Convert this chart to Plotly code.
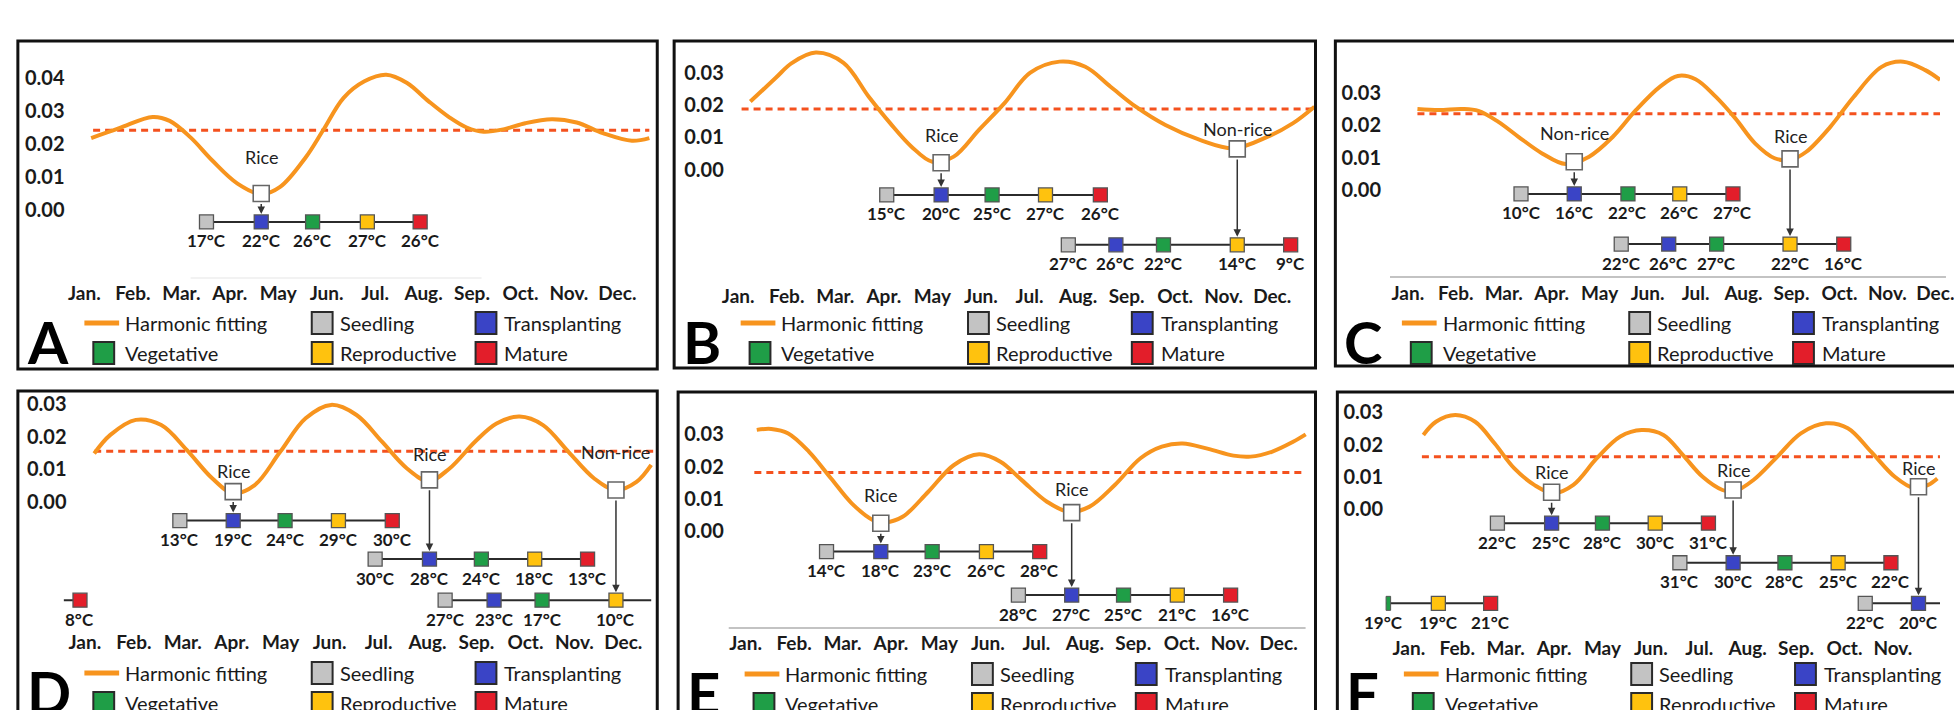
import plotly.graph_objects as go

W, H = 1954, 710
FONT = "Lato"

MONTHS = ["Jan.", "Feb.", "Mar.", "Apr.", "May", "Jun.", "Jul.", "Aug.", "Sep.", "Oct.", "Nov.", "Dec."]
STAGES = ["Seedling", "Transplanting", "Vegetative", "Reproductive", "Mature"]
STAGE_COLORS = ["#C3C3C3", "#3A44C6", "#1F9E47", "#FFC20E", "#E31E2A"]
CURVE_COLOR = "#F7941E"
THRESH_COLOR = "#F4511E"

# ---------------- data: harmonic fitting curves (month position, value) ----------------
a_month = [1.14, 1.72, 2.41, 2.76, 3.19, 3.64, 4.16, 4.65, 5.04, 5.57, 5.92, 6.35, 6.78, 7.23,
           7.66, 8.10, 8.54, 8.89, 9.24, 9.67, 10.10, 10.65, 11.16, 11.70, 12.30, 12.66]
a_value = [0.0218, 0.0248, 0.0282, 0.0270, 0.0220, 0.0150, 0.0080, 0.0048, 0.0070, 0.0160, 0.0240,
           0.0340, 0.0390, 0.0410, 0.0385, 0.0330, 0.0280, 0.0250, 0.0237, 0.0245, 0.0263, 0.0275,
           0.0265, 0.0233, 0.0210, 0.0218]
b_month = [1.25, 1.77, 2.11, 2.60, 3.17, 3.69, 4.13, 4.57, 5.00, 5.44, 5.96, 6.49, 7.01, 7.62,
           8.15, 8.67, 9.19, 9.80, 10.51, 11.21, 11.91, 12.43, 12.87]
b_value = [0.0211, 0.0284, 0.0331, 0.0363, 0.0331, 0.0226, 0.0144, 0.0071, 0.0024, 0.0040, 0.0123,
           0.0207, 0.0300, 0.0335, 0.0319, 0.0257, 0.0195, 0.0138, 0.0092, 0.0066, 0.0102, 0.0144,
           0.0195]
c_month = [1.20, 1.65, 2.14, 2.47, 2.88, 3.30, 3.80, 4.29, 4.78, 5.28, 5.76, 6.26, 6.63, 7.00,
           7.42, 7.83, 8.24, 8.65, 8.98, 9.31, 9.81, 10.30, 10.88, 11.33, 11.79, 12.10]
c_value = [0.0250, 0.0247, 0.0250, 0.0244, 0.0211, 0.0165, 0.0113, 0.0080, 0.0103, 0.0165, 0.0247,
           0.0319, 0.0352, 0.0342, 0.0288, 0.0221, 0.0144, 0.0098, 0.0093, 0.0118, 0.0195, 0.0288,
           0.0380, 0.0396, 0.0370, 0.0340]
d_month = [1.19, 1.52, 2.04, 2.56, 3.08, 3.60, 4.03, 4.47, 4.99, 5.51, 6.03, 6.55, 7.07, 7.58,
           8.02, 8.45, 8.97, 9.41, 9.88, 10.36, 10.88, 11.40, 11.84, 12.27, 12.57]
d_value = [0.0148, 0.0205, 0.0251, 0.0235, 0.0159, 0.0072, 0.0026, 0.0051, 0.0153, 0.0256, 0.0297,
           0.0266, 0.0184, 0.0102, 0.0063, 0.0102, 0.0184, 0.0240, 0.0261, 0.0235, 0.0153, 0.0072,
           0.0036, 0.0061, 0.0113]
e_month = [1.23, 1.53, 1.88, 2.31, 2.76, 3.19, 3.63, 3.89, 4.24, 4.77, 5.30, 5.82, 6.26, 6.70,
           7.22, 7.66, 8.09, 8.62, 9.15, 9.59, 10.02, 10.55, 11.07, 11.42, 11.86, 12.30, 12.56]
e_value = [0.0314, 0.0317, 0.0303, 0.0246, 0.0164, 0.0086, 0.0034, 0.0027, 0.0044, 0.0122, 0.0205,
           0.0238, 0.0215, 0.0158, 0.0091, 0.0060, 0.0075, 0.0143, 0.0226, 0.0262, 0.0272, 0.0255,
           0.0234, 0.0231, 0.0246, 0.0277, 0.0300]
f_month = [1.30, 1.56, 1.96, 2.37, 2.77, 3.18, 3.59, 3.99, 4.40, 4.88, 5.37, 5.81, 6.26, 6.66,
           7.07, 7.48, 7.72, 8.12, 8.61, 9.10, 9.62, 10.07, 10.55, 11.04, 11.45, 11.73, 11.92]
f_value = [0.0230, 0.0271, 0.0292, 0.0271, 0.0204, 0.0126, 0.0075, 0.0049, 0.0075, 0.0157, 0.0225,
           0.0245, 0.0230, 0.0168, 0.0100, 0.0059, 0.0054, 0.0090, 0.0162, 0.0235, 0.0266, 0.0251,
           0.0178, 0.0100, 0.0064, 0.0075, 0.0095]

# thresholds (dashed lines): value, start month, end month
a_threshold = [0.0242, 1.18, 12.66]
b_threshold = [0.0188, 1.07, 12.87]
c_threshold = [0.0235, 1.20, 12.60]
d_threshold = [0.0155, 1.19, 12.62]
e_threshold = [0.0182, 1.18, 12.56]
f_threshold = [0.0162, 1.27, 12.60]

# phenology timelines: stage months, temperatures (deg C), stage indices
a1_month, a1_temp, a1_stage = [3.52, 4.65, 5.71, 6.84, 7.93], [17, 22, 26, 27, 26], [0, 1, 2, 3, 4]
b1_month, b1_temp, b1_stage = [4.06, 5.18, 6.23, 7.33, 8.46], [15, 20, 25, 27, 26], [0, 1, 2, 3, 4]
b2_month, b2_temp, b2_stage = [7.80, 8.78, 9.76, 11.28, 12.38], [27, 26, 22, 14, 9], [0, 1, 2, 3, 4]
c1_month, c1_temp, c1_stage = [3.36, 4.47, 5.59, 6.67, 7.78], [10, 16, 22, 26, 27], [0, 1, 2, 3, 4]
c2_month, c2_temp, c2_stage = [5.45, 6.44, 7.44, 8.97, 10.09], [22, 26, 27, 22, 16], [0, 1, 2, 3, 4]
d1_month, d1_temp, d1_stage = [2.94, 4.03, 5.09, 6.18, 7.28], [13, 19, 24, 29, 30], [0, 1, 2, 3, 4]
d2_month, d2_temp, d2_stage = [6.93, 8.04, 9.10, 10.19, 11.27], [30, 28, 24, 18, 13], [0, 1, 2, 3, 4]
d3_month, d3_temp, d3_stage = [8.36, 9.36, 10.34, 11.85], [27, 23, 17, 10], [0, 1, 2, 3]
d4_month, d4_temp, d4_stage = [0.90], [8], [4]
e1_month, e1_temp, e1_stage = [2.67, 3.79, 4.85, 5.97, 7.07], [14, 18, 23, 26, 28], [0, 1, 2, 3, 4]
e2_month, e2_temp, e2_stage = [6.63, 7.73, 8.80, 9.91, 11.01], [28, 27, 25, 21, 16], [0, 1, 2, 3, 4]
f1_month, f1_temp, f1_stage = [2.83, 3.95, 5.00, 6.09, 7.19], [22, 25, 28, 30, 31], [0, 1, 2, 3, 4]
f2_month, f2_temp, f2_stage = [6.60, 7.70, 8.77, 9.87, 10.96], [31, 30, 28, 25, 22], [0, 1, 2, 3, 4]
f3_month, f3_temp, f3_stage = [10.43, 11.53], [22, 20], [0, 1]
f4_month, f4_temp, f4_stage = [0.48, 1.61, 2.69], [19, 19, 21], [2, 3, 4]

# minima marked on the curves: label, month, value
a_marks = [("Rice", 4.65, 0.0050)]
b_marks = [("Rice", 5.18, 0.0021), ("Non-rice", 11.28, 0.0064)]
c_marks = [("Non-rice", 4.47, 0.0087), ("Rice", 8.97, 0.0096)]
d_marks = [("Rice", 4.03, 0.0031), ("Rice", 8.04, 0.0067), ("Non-rice", 11.85, 0.0036)]
e_marks = [("Rice", 3.79, 0.0024), ("Rice", 7.73, 0.0057)]
f_marks = [("Rice", 3.95, 0.0052), ("Rice", 7.70, 0.0059), ("Rice", 11.53, 0.0069)]

# ---------------- layout geometry (pixels) ----------------
# rows: (months, temps, stages, level, line_start, line_end, clip_left)
panels = [
    dict(letter="A", box=(18, 41, 662, 369), jan=85.0, mpx=48.8, zero=210.0, ppu=33.0,
         ylab=62, monthy=293, yticks=[0, 0.01, 0.02, 0.03, 0.04],
         curve=(a_month, a_value), thr=a_threshold,
         rows=[(a1_month, a1_temp, a1_stage, -0.0036, None, None, None)],
         marks=[(a_marks[0], 0.0161, 0, 1)], axisline=(192, 485, 278, "#EEEEEE")),
    dict(letter="B", box=(679, 41, 1325, 368), jan=743.5, mpx=48.9, zero=169.5, ppu=32.2,
         ylab=726, monthy=296, yticks=[0, 0.01, 0.02, 0.03],
         curve=(b_month, b_value), thr=b_threshold,
         rows=[(b1_month, b1_temp, b1_stage, -0.0079, None, None, None),
               (b2_month, b2_temp, b2_stage, -0.0234, None, None, None)],
         marks=[(b_marks[0], 0.0107, 0, 1), (b_marks[1], 0.0125, 1, 3)], axisline=None),
    dict(letter="C", box=(1345, 41, 1991, 366), jan=1418.0, mpx=48.3, zero=190.0, ppu=32.4,
         ylab=1388, monthy=293, yticks=[0, 0.01, 0.02, 0.03],
         curve=(c_month, c_value), thr=c_threshold,
         rows=[(c1_month, c1_temp, c1_stage, -0.0012, None, None, None),
               (c2_month, c2_temp, c2_stage, -0.0167, None, None, None)],
         marks=[(c_marks[0], 0.0177, 0, 1), (c_marks[1], 0.0167, 1, 3)],
         axisline=(1400, 1960, 277, "#AFAFAF")),
    dict(letter="D", box=(18, 391, 662, 760), jan=85.5, mpx=49.3, zero=501.7, ppu=32.6,
         ylab=64, monthy=642, yticks=[0, 0.01, 0.02, 0.03],
         curve=(d_month, d_value), thr=d_threshold,
         rows=[(d1_month, d1_temp, d1_stage, -0.0058, None, None, None),
               (d2_month, d2_temp, d2_stage, -0.0176, None, None, None),
               (d3_month, d3_temp, d3_stage, -0.0302, None, 12.57, None),
               (d4_month, d4_temp, d4_stage, -0.0302, 0.57, None, None)],
         marks=[(d_marks[0], 0.0094, 0, 1), (d_marks[1], 0.0145, 1, 1), (d_marks[2], 0.0153, 2, 3)],
         axisline=None),
    dict(letter="E", box=(683, 392, 1325, 760), jan=751.0, mpx=48.8, zero=531.0, ppu=32.2,
         ylab=726, monthy=643, yticks=[0, 0.01, 0.02, 0.03],
         curve=(e_month, e_value), thr=e_threshold,
         rows=[(e1_month, e1_temp, e1_stage, -0.0064, None, None, None),
               (e2_month, e2_temp, e2_stage, -0.0199, None, None, None)],
         marks=[(e_marks[0], 0.0112, 0, 1), (e_marks[1], 0.0130, 1, 1)],
         axisline=(734, 1315, 628, "#AFAFAF")),
    dict(letter="F", box=(1347, 392, 1995, 760), jan=1419.0, mpx=48.75, zero=509.0, ppu=32.2,
         ylab=1390, monthy=648, yticks=[0, 0.01, 0.02, 0.03],
         curve=(f_month, f_value), thr=f_threshold,
         rows=[(f1_month, f1_temp, f1_stage, -0.0044, None, None, None),
               (f2_month, f2_temp, f2_stage, -0.0167, None, None, None),
               (f3_month, f3_temp, f3_stage, -0.0293, None, 12.6, None),
               (f4_month, f4_temp, f4_stage, -0.0293, 0.53, None, 0.53)],
         marks=[(f_marks[0], 0.0114, 0, 1), (f_marks[1], 0.0121, 1, 1), (f_marks[2], 0.0126, 2, 1)],
         axisline=None),
]


def px(x):
    return x / W


def py(y):
    return 1 - y / H


fig = go.Figure()
layout = {}
shapes = []
annotations = []

for i, p in enumerate(panels, start=1):
    sfx = "" if i == 1 else str(i)
    xa, ya = "x" + sfx, "y" + sfx
    L, T, R, B = p["box"]
    Rc, Bc = min(R, W), min(B, H)
    xr = [1 + (L - p["jan"]) / p["mpx"], 1 + (Rc - p["jan"]) / p["mpx"]]
    yr = [(p["zero"] - Bc) / p["ppu"] * 0.01, (p["zero"] - T) / p["ppu"] * 0.01]
    layout["xaxis" + sfx] = dict(
        domain=[px(L), px(Rc)], range=xr, anchor="free", position=py(p["monthy"] - 13),
        tickmode="array", tickvals=list(range(1, 13)), ticktext=MONTHS, ticks="",
        showline=False, showgrid=False, zeroline=False, ticklabeloverflow="allow",
        tickfont=dict(family=FONT, size=19, color="#1a1a1a", weight="bold"), fixedrange=True)
    layout["yaxis" + sfx] = dict(
        domain=[py(Bc), py(T)], range=yr, anchor="free", position=px(p["ylab"] + 3),
        tickmode="array", tickvals=p["yticks"], tickformat=".2f", ticks="",
        showline=False, showgrid=False, zeroline=False, ticklabeloverflow="allow",
        tickfont=dict(family=FONT, size=20, color="#1a1a1a", weight="bold"), fixedrange=True)

    # panel frame
    shapes.append(dict(type="rect", xref="paper", yref="paper", x0=px(L), x1=px(R),
                       y0=py(B), y1=py(T), line=dict(color="#111111", width=3)))
    if p["axisline"]:
        x0, x1, yy, col = p["axisline"]
        shapes.append(dict(type="line", xref="paper", yref="paper", x0=px(x0), x1=px(x1),
                           y0=py(yy), y1=py(yy), line=dict(color=col, width=1.5)))

    # threshold
    thr, t0, t1 = p["thr"]
    fig.add_trace(go.Scatter(x=[t0, t1], y=[thr, thr], xaxis=xa, yaxis=ya, mode="lines",
                             line=dict(color=THRESH_COLOR, width=3, dash="7px,5px"),
                             showlegend=False, hoverinfo="skip"))
    # harmonic curve
    cm, cv = p["curve"]
    fig.add_trace(go.Scatter(x=cm, y=cv, xaxis=xa, yaxis=ya, mode="lines",
                             line=dict(color=CURVE_COLOR, width=4, shape="spline", smoothing=1.0),
                             showlegend=False, name="Harmonic fitting"))

    half_w = 7.0 / p["mpx"]          # half marker width in months
    half_h = 7.0 / p["ppu"] * 0.01   # half marker height in values
    # timelines
    for months, temps, stages, level, lstart, lend, clip in p["rows"]:
        xs = lstart if lstart is not None else months[0]
        xe = lend if lend is not None else months[-1]
        fig.add_trace(go.Scatter(x=[xs, xe], y=[level, level], xaxis=xa, yaxis=ya, mode="lines",
                                 line=dict(color="#2b2b2b", width=2), showlegend=False,
                                 hoverinfo="skip"))
        narrow = [k for k, m in enumerate(months) if clip is not None and m < clip]
        mk = [k for k in range(len(months)) if k not in narrow]
        for k in narrow:
            shapes.append(dict(type="rect", xref=xa, yref=ya, x0=clip, x1=months[k] + half_w,
                               y0=level - half_h, y1=level + half_h,
                               fillcolor=STAGE_COLORS[stages[k]], line=dict(color="#555", width=1)))
        fig.add_trace(go.Scatter(
            x=[months[k] for k in mk], y=[level] * len(mk), xaxis=xa, yaxis=ya, mode="markers",
            marker=dict(symbol="square", size=14, color=[STAGE_COLORS[stages[k]] for k in mk],
                        line=dict(color="#555555", width=1.3)),
            text=[STAGES[stages[k]] for k in mk], showlegend=False, hoverinfo="text"))
        for m, t in zip(months, temps):
            annotations.append(dict(x=m, y=level, xref=xa, yref=ya, text=f"{t}°C", showarrow=False,
                                    yshift=-19, font=dict(family=FONT, size=17, color="#1a1a1a",
                                                          weight="bold")))

    # marked minima, labels, arrows
    for (label, mx, mv), label_y, row_i, stage_i in p["marks"]:
        fig.add_trace(go.Scatter(x=[mx], y=[mv], xaxis=xa, yaxis=ya, mode="markers",
                                 marker=dict(symbol="square", size=16, color="white",
                                             line=dict(color="#666666", width=1.6)),
                                 showlegend=False, hoverinfo="skip"))
        annotations.append(dict(x=mx, y=label_y, xref=xa, yref=ya, text=label, showarrow=False,
                                font=dict(family=FONT, size=18, color="#222222")))
        row = p["rows"][row_i]
        annotations.append(dict(x=row[0][stage_i], y=row[3], xref=xa, yref=ya, ax=mx, ay=mv,
                                axref=xa, ayref=ya, text="", showarrow=True, arrowhead=2,
                                arrowsize=1, arrowwidth=1.5, arrowcolor="#333333",
                                standoff=8, startstandoff=9))

    # legend block
    r1, r2 = T + 282, T + 312
    shapes.append(dict(type="line", xref="paper", yref="paper", x0=px(L + 67), x1=px(L + 102),
                       y0=py(r1), y1=py(r1), line=dict(color=CURVE_COLOR, width=5)))
    sq = [(306.5, r1, 0), (471.5, r1, 1), (86.5, r2, 2), (306.5, r2, 3), (471.5, r2, 4)]
    for cx, cy, s in sq:
        shapes.append(dict(type="rect", xref="paper", yref="paper",
                           x0=px(L + cx - 10.5), x1=px(L + cx + 10.5),
                           y0=py(cy + 11), y1=py(cy - 11),
                           fillcolor=STAGE_COLORS[s], line=dict(color="#2a2a2a", width=2)))
    texts = [("Harmonic fitting", 106, r1), ("Seedling", 322, r1), ("Transplanting", 488, r1),
             ("Vegetative", 106, r2), ("Reproductive", 322, r2), ("Mature", 488, r2)]
    for t, dx, yy in texts:
        annotations.append(dict(x=px(L + dx), y=py(yy), xref="paper", yref="paper", text=t,
                                showarrow=False, xanchor="left", yanchor="middle",
                                font=dict(family=FONT, size=20, color="#1a1a1a")))
    annotations.append(dict(x=px(L + 7), y=py(T + 300), xref="paper", yref="paper",
                            text=p["letter"], showarrow=False, xanchor="left", yanchor="middle",
                            font=dict(family=FONT, size=58, color="#000000", weight="bold")))

fig.update_layout(
    width=W, height=H, margin=dict(l=0, r=0, t=0, b=0), autosize=False,
    paper_bgcolor="white", plot_bgcolor="white", showlegend=False,
    shapes=shapes, annotations=annotations, **layout)

# Fit the figure exactly to the browser viewport (no page margins / scrollbars).
POST = (
    "document.documentElement.style.margin='0';"
    "document.documentElement.style.overflow='hidden';"
    "document.body.style.margin='0';"
    "document.body.style.overflow='hidden';"
    "var gd=document.getElementById('{plot_id}');"
    "var w=window.innerWidth||1954;var h=window.innerHeight||710;"
    "gd.style.width=w+'px';gd.style.height=h+'px';"
    "Plotly.relayout(gd,{width:w,height:h});"
)

fig.write_html("out.html", post_script=POST,
               config={"displayModeBar": False, "responsive": False})
